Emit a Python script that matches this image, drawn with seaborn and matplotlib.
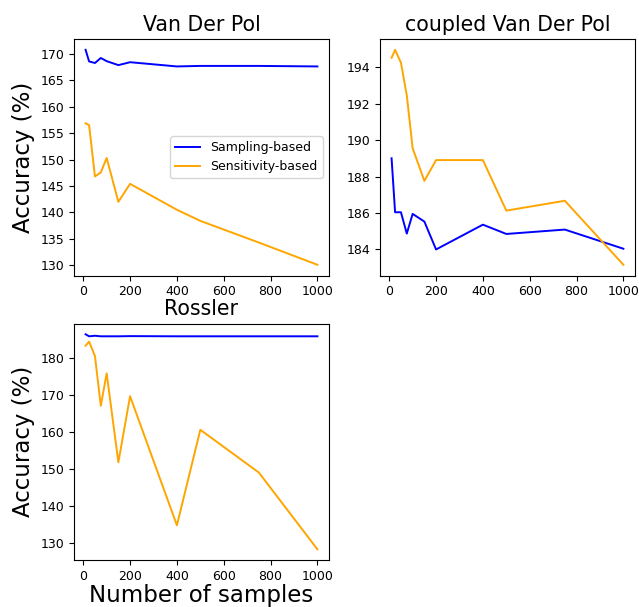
import matplotlib
matplotlib.use("Agg")
import matplotlib.pyplot as plt
import pandas as pd
import seaborn as sns

# Number of samples used for each run
samples = [10, 25, 50, 75, 100, 150, 200, 400, 500, 750, 1000]

# Van Der Pol
vdp_sampling = [170.75, 168.55, 168.25, 169.2, 168.6, 167.85, 168.4, 167.6, 167.7, 167.7, 167.6]
vdp_sensitivity = [156.85, 156.5, 146.8, 147.55, 150.3, 142.0, 145.4, 140.5, 138.4, 134.3, 130.1]

# coupled Van Der Pol
cvdp_sampling = [189.0, 186.04, 186.04, 184.87, 185.95, 185.53, 184.0, 185.36, 184.85, 185.09, 184.04]
cvdp_sensitivity = [194.51, 194.95, 194.24, 192.45, 189.55, 187.76, 188.9, 188.9, 186.13, 186.67, 183.16]

# Rossler
ross_sampling = [186.5, 185.95, 186.1, 185.95, 185.95, 185.95, 186.0, 185.95, 185.95, 185.95, 185.95]
ross_sensitivity = [183.4, 184.5, 180.6, 167.1, 175.9, 151.8, 169.7, 134.7, 160.6, 149.0, 128.2]

methods = ["Sampling-based", "Sensitivity-based"]
palette = {"Sampling-based": "blue", "Sensitivity-based": "orange"}

panels = [
    ("Van Der Pol", vdp_sampling, vdp_sensitivity, [130, 135, 140, 145, 150, 155, 160, 165, 170]),
    ("coupled Van Der Pol", cvdp_sampling, cvdp_sensitivity, [184, 186, 188, 190, 192, 194]),
    ("Rossler", ross_sampling, ross_sensitivity, [130, 140, 150, 160, 170, 180]),
]


def to_frame(sampling, sensitivity):
    rows = []
    for n, a, b in zip(samples, sampling, sensitivity):
        rows.append({"samples": n, "accuracy": a, "method": methods[0]})
        rows.append({"samples": n, "accuracy": b, "method": methods[1]})
    return pd.DataFrame(rows)


plt.rcParams["font.family"] = ["DejaVu Sans"]
fig, axes = plt.subplots(2, 2, figsize=(6.39, 6.07), dpi=100)
fig.subplots_adjust(left=0.1158, right=0.9937, top=0.9357, bottom=0.0774,
                    wspace=0.2, hspace=0.203)

slots = [axes[0, 0], axes[0, 1], axes[1, 0]]
for ax, (title, s1, s2, yt) in zip(slots, panels):
    df = to_frame(s1, s2)
    sns.lineplot(data=df, x="samples", y="accuracy", hue="method",
                 palette=palette, linewidth=1.4, ax=ax, legend=(title == "Van Der Pol"))
    ax.set_title(title, fontsize=14.8)
    ax.set_xlabel("")
    ax.set_ylabel("")
    ax.set_xticks([0, 200, 400, 600, 800, 1000])
    ax.set_yticks(yt)
    ax.tick_params(labelsize=9)

axes[0, 0].legend(loc="center right", fontsize=9)
axes[0, 0].set_ylabel("Accuracy (%)", fontsize=16.5)
axes[1, 0].set_ylabel("Accuracy (%)", fontsize=16.5)
axes[1, 0].set_xlabel("Number of samples", fontsize=16.5, labelpad=1)
axes[1, 1].axis("off")

fig.savefig("out.png", dpi=100)
